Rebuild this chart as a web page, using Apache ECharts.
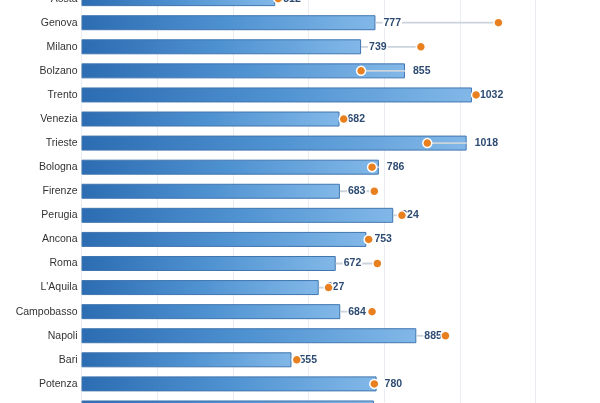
<!DOCTYPE html>
<html>
<head>
<meta charset="utf-8">
<script src="https://cdn.jsdelivr.net/npm/echarts@6/dist/echarts.min.js"></script>
<style>
html, body { margin: 0; padding: 0; overflow: hidden; background: #fff; width: 600px; height: 403px; }
#chart { position: absolute; left: 0; top: -40px; width: 600px; height: 500px; }
</style>
</head>
<body>
<div id="chart"></div>
<script>
var cities = ['Aosta', 'Genova', 'Milano', 'Bolzano', 'Trento', 'Venezia', 'Trieste', 'Bologna', 'Firenze', 'Perugia', 'Ancona', 'Roma', "L'Aquila", 'Campobasso', 'Napoli', 'Bari', 'Potenza', 'Catanzaro'];
var barValues = [512, 777, 739, 855, 1032, 682, 1018, 786, 683, 824, 753, 672, 627, 684, 885, 555, 780, 773];
var dotValues = [520, 1102, 897, 739, 1043, 693, 914, 768, 774, 847, 759, 782, 653, 768, 962, 569, 774, 780];

var myChart = echarts.init(document.getElementById('chart'));

// [bar value, dot value, row]
var connectors = barValues.map(function (v, i) {
    return [v, dotValues[i], i];
});
var dots = dotValues.map(function (v, i) {
    return [v, i];
});

myChart.setOption({
    animation: false,
    grid: {
        left: 81.5,
        right: 64.5,
        top: 26.6,
        height: 433.4
    },
    xAxis: {
        type: 'value',
        min: 0,
        max: 1200,
        interval: 200,
        axisLabel: { show: false },
        axisLine: { show: false },
        axisTick: { show: false },
        splitLine: { lineStyle: { color: '#e9edf2', width: 1 } }
    },
    yAxis: {
        type: 'category',
        inverse: true,
        data: cities,
        axisLine: { show: false },
        axisTick: { show: false },
        axisLabel: {
            color: '#333',
            fontSize: 10.5,
            margin: 4,
            interval: function (idx) { return idx < cities.length - 1; }
        }
    },
    series: [{
        type: 'bar',
        z: 2,
        data: barValues,
        barWidth: 15,
        itemStyle: {
            color: {
                type: 'linear', x: 0, y: 0, x2: 1, y2: 0,
                colorStops: [
                    { offset: 0, color: '#2c6cb2' },
                    { offset: 0.5, color: '#4f92d1' },
                    { offset: 1, color: '#82b8e8' }
                ]
            },
            borderColor: '#4176b0',
            borderWidth: 1
        }
    }, {
        type: 'custom',
        z: 3,
        silent: true,
        data: connectors,
        encode: { x: [0, 1], y: 2 },
        renderItem: function (params, api) {
            var a = api.coord([api.value(0), api.value(2)]);
            var b = api.coord([api.value(1), api.value(2)]);
            return {
                type: 'group',
                children: [{
                    type: 'line',
                    shape: { x1: a[0], y1: a[1], x2: b[0], y2: b[1] },
                    style: { stroke: '#cbd3dc', lineWidth: 1.8 }
                }, {
                    type: 'text',
                    x: a[0] + 7,
                    y: a[1],
                    style: {
                        text: String(api.value(0)),
                        fill: '#2d4b72',
                        font: 'bold 10.5px sans-serif',
                        verticalAlign: 'middle',
                        align: 'left',
                        backgroundColor: '#fff',
                        padding: [0, 1]
                    }
                }]
            };
        }
    }, {
        type: 'scatter',
        z: 4,
        data: dots,
        symbolSize: 9,
        itemStyle: {
            color: '#e8801f',
            borderColor: '#fff',
            borderWidth: 1.5,
            opacity: 1
        }
    }]
});
</script>
</body>
</html>
